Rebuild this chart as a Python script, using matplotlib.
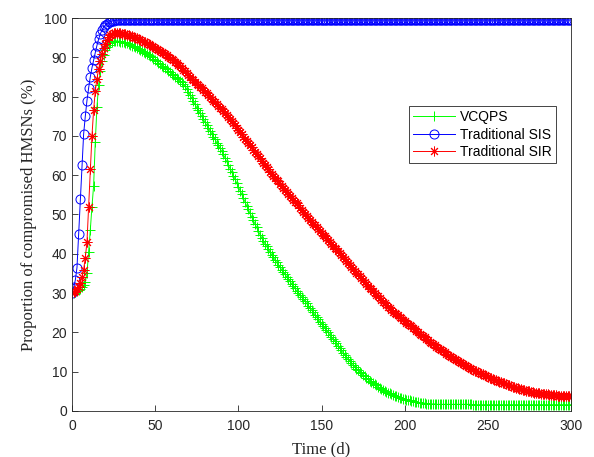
import numpy as np
import matplotlib.pyplot as plt

# Time axis (days), one sample per day
days = list(range(0, 301))

# VCQPS (%)
vcqps = [29.8, 30.0, 30.2, 30.5, 30.8, 31.1, 31.5, 32.0, 32.8, 35.0,   # 0-9
         40.5, 46.0, 52.0, 57.3, 68.5, 77.3, 83.0, 86.5, 89.0, 90.6,   # 10-19
         91.8, 92.6, 93.2, 93.6, 93.9, 94.1, 94.2, 94.2, 94.1, 94.0,   # 20-29
         93.9, 93.8, 93.7, 93.6, 93.4, 93.2, 93.0, 92.8, 92.6, 92.4,   # 30-39
         92.2, 91.9, 91.7, 91.4, 91.2, 90.9, 90.6, 90.3, 90.0, 89.6,   # 40-49
         89.3, 89.0, 88.6, 88.3, 87.9, 87.6, 87.2, 86.9, 86.5, 86.2,   # 50-59
         85.8, 85.5, 85.1, 84.8, 84.4, 84.0, 83.6, 83.1, 82.6, 81.9,   # 60-69
         81.2, 80.4, 79.6, 78.8, 78.0, 77.2, 76.5, 75.7, 75.0, 74.2,   # 70-79
         73.5, 72.7, 72.0, 71.3, 70.6, 69.8, 69.1, 68.3, 67.6, 66.8,   # 80-89
         66.1, 65.3, 64.4, 63.5, 62.6, 61.7, 60.8, 59.9, 59.0, 58.0,   # 90-99
         57.1, 56.1, 55.2, 54.2, 53.2, 52.2, 51.3, 50.3, 49.4, 48.5,   # 100-109
         47.6, 46.7, 45.8, 44.9, 44.1, 43.3, 42.6, 41.9, 41.2, 40.5,   # 110-119
         39.8, 39.1, 38.5, 37.8, 37.2, 36.6, 36.0, 35.4, 34.8, 34.2,   # 120-129
         33.6, 33.0, 32.4, 31.8, 31.2, 30.6, 30.1, 29.5, 29.0, 28.5,   # 130-139
         28.0, 27.4, 26.8, 26.2, 25.7, 25.1, 24.5, 23.9, 23.3, 22.7,   # 140-149
         22.2, 21.6, 21.1, 20.5, 20.0, 19.4, 18.9, 18.3, 17.8, 17.2,   # 150-159
         16.6, 16.0, 15.4, 14.8, 14.3, 13.8, 13.3, 12.8, 12.3, 11.8,   # 160-169
         11.3, 10.8, 10.4, 10.0, 9.6, 9.2, 8.8, 8.4, 8.1, 7.7,         # 170-179
         7.4, 7.1, 6.8, 6.5, 6.2, 5.9, 5.6, 5.3, 5.1, 4.9,             # 180-189
         4.7, 4.5, 4.3, 4.1, 3.9, 3.7, 3.6, 3.4, 3.3, 3.1,             # 190-199
         3.0, 2.9, 2.8, 2.7, 2.6, 2.5, 2.4, 2.3, 2.2, 2.1,             # 200-209
         2.1, 2.0, 2.0, 1.9, 1.9, 1.8, 1.8, 1.8, 1.8, 1.7,             # 210-219
         1.7, 1.7, 1.7, 1.7, 1.7, 1.7, 1.7, 1.7, 1.7, 1.7,             # 220-229
         1.7, 1.7, 1.7, 1.7, 1.7, 1.7, 1.7, 1.7, 1.7, 1.7,             # 230-239
         1.7, 1.6, 1.6, 1.6, 1.6, 1.6, 1.6, 1.6, 1.6, 1.6,             # 240-249
         1.6, 1.6, 1.6, 1.6, 1.6, 1.6, 1.6, 1.6, 1.6, 1.6,             # 250-259
         1.6, 1.6, 1.6, 1.6, 1.6, 1.6, 1.6, 1.6, 1.6, 1.6,             # 260-269
         1.6, 1.6, 1.6, 1.6, 1.6, 1.6, 1.6, 1.6, 1.6, 1.6,             # 270-279
         1.6, 1.6, 1.6, 1.6, 1.6, 1.6, 1.6, 1.6, 1.6, 1.6,             # 280-289
         1.6, 1.6, 1.6, 1.6, 1.6, 1.6, 1.6, 1.6, 1.6, 1.6,             # 290-299
         1.6]                                                          # 300

# Traditional SIS (%)
sis = [30.0, 31.5, 33.3, 36.5, 45.0, 54.0, 62.5, 70.5, 75.0, 79.0,     # 0-9
       82.2, 85.0, 87.3, 89.3, 91.2, 93.0, 94.6, 95.9, 96.9, 97.6,     # 10-19
       98.2, 98.6, 98.9, 99.1, 99.25, 99.35, 99.4, 99.45, 99.5, 99.5,  # 20-29
       99.5, 99.5, 99.5, 99.5, 99.5, 99.5, 99.5, 99.5, 99.5, 99.5,     # 30-39
       99.5, 99.5, 99.5, 99.5, 99.5, 99.5, 99.5, 99.5, 99.5, 99.5,     # 40-49
       99.5, 99.5, 99.5, 99.5, 99.5, 99.5, 99.5, 99.5, 99.5, 99.5,     # 50-59
       99.5, 99.5, 99.5, 99.5, 99.5, 99.5, 99.5, 99.5, 99.5, 99.5,     # 60-69
       99.5, 99.5, 99.5, 99.5, 99.5, 99.5, 99.5, 99.5, 99.5, 99.5,     # 70-79
       99.5, 99.5, 99.5, 99.5, 99.5, 99.5, 99.5, 99.5, 99.5, 99.5,     # 80-89
       99.5, 99.5, 99.5, 99.5, 99.5, 99.5, 99.5, 99.5, 99.5, 99.5,     # 90-99
       99.5, 99.5, 99.5, 99.5, 99.5, 99.5, 99.5, 99.5, 99.5, 99.5,     # 100-109
       99.5, 99.5, 99.5, 99.5, 99.5, 99.5, 99.5, 99.5, 99.5, 99.5,     # 110-119
       99.5, 99.5, 99.5, 99.5, 99.5, 99.5, 99.5, 99.5, 99.5, 99.5,     # 120-129
       99.5, 99.5, 99.5, 99.5, 99.5, 99.5, 99.5, 99.5, 99.5, 99.5,     # 130-139
       99.5, 99.5, 99.5, 99.5, 99.5, 99.5, 99.5, 99.5, 99.5, 99.5,     # 140-149
       99.5, 99.5, 99.5, 99.5, 99.5, 99.5, 99.5, 99.5, 99.5, 99.5,     # 150-159
       99.5, 99.5, 99.5, 99.5, 99.5, 99.5, 99.5, 99.5, 99.5, 99.5,     # 160-169
       99.5, 99.5, 99.5, 99.5, 99.5, 99.5, 99.5, 99.5, 99.5, 99.5,     # 170-179
       99.5, 99.5, 99.5, 99.5, 99.5, 99.5, 99.5, 99.5, 99.5, 99.5,     # 180-189
       99.5, 99.5, 99.5, 99.5, 99.5, 99.5, 99.5, 99.5, 99.5, 99.5,     # 190-199
       99.5, 99.5, 99.5, 99.5, 99.5, 99.5, 99.5, 99.5, 99.5, 99.5,     # 200-209
       99.5, 99.5, 99.5, 99.5, 99.5, 99.5, 99.5, 99.5, 99.5, 99.5,     # 210-219
       99.5, 99.5, 99.5, 99.5, 99.5, 99.5, 99.5, 99.5, 99.5, 99.5,     # 220-229
       99.5, 99.5, 99.5, 99.5, 99.5, 99.5, 99.5, 99.5, 99.5, 99.5,     # 230-239
       99.5, 99.5, 99.5, 99.5, 99.5, 99.5, 99.5, 99.5, 99.5, 99.5,     # 240-249
       99.5, 99.5, 99.5, 99.5, 99.5, 99.5, 99.5, 99.5, 99.5, 99.5,     # 250-259
       99.5, 99.5, 99.5, 99.5, 99.5, 99.5, 99.5, 99.5, 99.5, 99.5,     # 260-269
       99.5, 99.5, 99.5, 99.5, 99.5, 99.5, 99.5, 99.5, 99.5, 99.5,     # 270-279
       99.5, 99.5, 99.5, 99.5, 99.5, 99.5, 99.5, 99.5, 99.5, 99.5,     # 280-289
       99.5, 99.5, 99.5, 99.5, 99.5, 99.5, 99.5, 99.5, 99.5, 99.5,     # 290-299
       99.5]                                                           # 300

# Traditional SIR (%)
sir = [30.0, 30.3, 30.6, 31.0, 31.6, 32.6, 34.0, 36.0, 39.0, 43.0,     # 0-9
       52.0, 61.5, 70.0, 76.5, 81.5, 84.5, 87.0, 89.0, 90.8, 92.3,     # 10-19
       93.5, 94.4, 95.1, 95.6, 96.0, 96.2, 96.3, 96.3, 96.2, 96.1,     # 20-29
       96.0, 96.0, 95.9, 95.7, 95.6, 95.4, 95.3, 95.1, 95.0, 94.8,     # 30-39
       94.6, 94.4, 94.2, 94.0, 93.8, 93.6, 93.4, 93.1, 92.9, 92.6,     # 40-49
       92.4, 92.1, 91.9, 91.6, 91.4, 91.1, 90.8, 90.5, 90.2, 89.9,     # 50-59
       89.6, 89.2, 88.9, 88.5, 88.1, 87.7, 87.3, 86.8, 86.4, 85.9,     # 60-69
       85.5, 85.0, 84.6, 84.1, 83.7, 83.3, 82.9, 82.5, 82.1, 81.6,     # 70-79
       81.2, 80.8, 80.4, 79.9, 79.5, 79.0, 78.6, 78.1, 77.7, 77.2,     # 80-89
       76.8, 76.3, 75.9, 75.4, 74.9, 74.3, 73.8, 73.2, 72.7, 72.1,     # 90-99
       71.6, 71.0, 70.4, 69.8, 69.3, 68.7, 68.2, 67.6, 67.1, 66.5,     # 100-109
       66.0, 65.4, 64.9, 64.3, 63.7, 63.1, 62.6, 62.0, 61.5, 60.9,     # 110-119
       60.4, 59.9, 59.4, 58.9, 58.4, 57.8, 57.3, 56.8, 56.3, 55.8,     # 120-129
       55.3, 54.8, 54.3, 53.8, 53.3, 52.8, 52.3, 51.7, 51.2, 50.7,     # 130-139
       50.2, 49.7, 49.2, 48.7, 48.2, 47.7, 47.3, 46.8, 46.3, 45.8,     # 140-149
       45.4, 44.9, 44.5, 44.0, 43.5, 43.0, 42.6, 42.1, 41.6, 41.1,     # 150-159
       40.6, 40.1, 39.6, 39.1, 38.6, 38.1, 37.6, 37.1, 36.7, 36.2,     # 160-169
       35.7, 35.2, 34.8, 34.3, 33.8, 33.3, 32.9, 32.4, 31.9, 31.4,     # 170-179
       31.0, 30.5, 30.1, 29.6, 29.2, 28.7, 28.3, 27.8, 27.4, 26.9,     # 180-189
       26.5, 26.1, 25.7, 25.3, 25.0, 24.6, 24.3, 23.9, 23.6, 23.2,     # 190-199
       22.9, 22.5, 22.2, 21.8, 21.5, 21.1, 20.8, 20.4, 20.1, 19.7,     # 200-209
       19.4, 19.0, 18.7, 18.3, 18.0, 17.6, 17.3, 17.0, 16.7, 16.4,     # 210-219
       16.1, 15.8, 15.5, 15.2, 14.9, 14.6, 14.3, 14.0, 13.8, 13.5,     # 220-229
       13.2, 12.9, 12.7, 12.4, 12.2, 11.9, 11.7, 11.4, 11.2, 11.0,     # 230-239
       10.8, 10.5, 10.3, 10.1, 9.9, 9.7, 9.5, 9.3, 9.1, 8.9,           # 240-249
       8.7, 8.5, 8.3, 8.1, 8.0, 7.8, 7.6, 7.4, 7.3, 7.1,               # 250-259
       7.0, 6.8, 6.7, 6.5, 6.4, 6.2, 6.1, 5.9, 5.8, 5.6,               # 260-269
       5.5, 5.4, 5.3, 5.2, 5.1, 5.0, 4.9, 4.8, 4.7, 4.6,               # 270-279
       4.5, 4.45, 4.4, 4.35, 4.3, 4.25, 4.2, 4.15, 4.1, 4.05,          # 280-289
       4.0, 3.95, 3.9, 3.85, 3.8, 3.8, 3.8, 3.75, 3.7, 3.7,            # 290-299
       3.7]                                                            # 300

sans = ['Liberation Sans', 'DejaVu Sans']
serif = ['Liberation Serif', 'DejaVu Serif']
plt.rcParams['font.family'] = sans

fig = plt.figure(figsize=(5.94, 4.57), dpi=100)
ax = fig.add_axes([0.1212, 0.1007, 0.8401, 0.8599])

ax.plot(days, vcqps, color=(0, 1, 0), marker='+', ms=7, mew=0.7, lw=0.7, label='VCQPS')
ax.plot(days, sis, color=(0, 0, 1), marker='o', ms=6.5, mfc='none', mew=0.7, lw=0.7,
        label='Traditional SIS')
ax.plot(days, sir, color=(1, 0, 0), marker=(8, 2, 0), ms=7, mew=0.7, lw=0.7,
        label='Traditional SIR')

ax.set_xlim(0, 300)
ax.set_ylim(0, 100)
ax.set_xticks(np.arange(0, 301, 50))
ax.set_yticks(np.arange(0, 101, 10))
ax.tick_params(direction='in', length=4, width=0.6, colors='#262626',
               labelsize=10, top=False, right=False)
ax.tick_params(axis='x', pad=6)
for s in ax.spines.values():
    s.set_color('#262626')
    s.set_linewidth(0.6)

ax.set_xlabel('Time (d)', fontsize=12, family=serif, color='#262626', labelpad=6)
ax.set_ylabel('Proportion of compromised HMSNs (%)', fontsize=12, family=serif,
              color='#262626', labelpad=5)

leg = ax.legend(loc='upper right', bbox_to_anchor=(0.97, 0.776), fontsize=10,
                handlelength=3.0, borderaxespad=0, fancybox=False, framealpha=1,
                edgecolor='#262626', borderpad=0.3, labelspacing=0.25, handletextpad=0.4)
leg.get_frame().set_linewidth(0.6)

fig.savefig('out.png', dpi=100)
